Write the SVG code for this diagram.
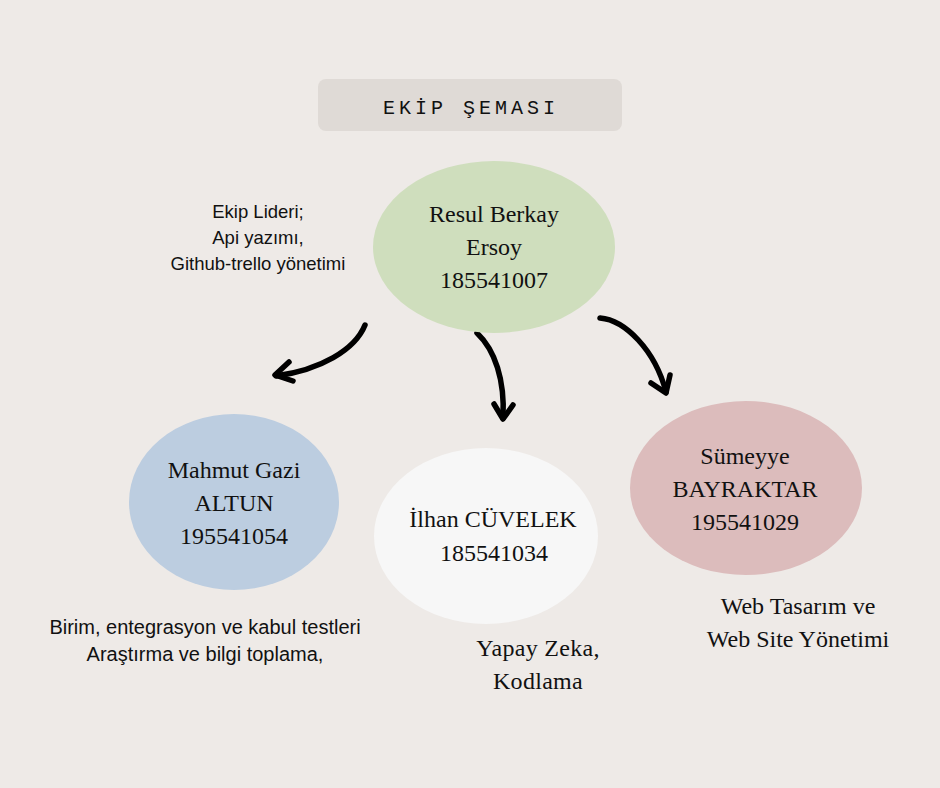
<svg xmlns="http://www.w3.org/2000/svg" width="940" height="788" viewBox="0 0 940 788">
<style>
.serif{font-family:"Liberation Serif","Times New Roman",serif;font-size:24px;fill:#111;text-anchor:middle}
.sans{font-family:"Liberation Sans",Arial,sans-serif;fill:#111;text-anchor:middle}
.title{font-family:"Liberation Mono","DejaVu Sans Mono",monospace;font-size:20px;letter-spacing:4px;fill:#111;text-anchor:middle}
.arrow{fill:none;stroke:#000;stroke-width:5.5;stroke-linecap:round;stroke-linejoin:round}
</style>
<rect width="940" height="788" fill="#eeeae7"/>
<g id="title">
<rect x="318" y="79" width="304" height="52" rx="8" fill="#dfdad6"/>
<text class="title" x="471" y="114">EKİP ŞEMASI</text>
</g>
<g id="connectors">
<path class="arrow" d="M365,325 C355,350 320,370 276,376"/>
<path class="arrow" d="M289,362 L275,375 L293,381"/>
<path class="arrow" d="M477,333 C495,350 505,380 503,418"/>
<path class="arrow" d="M494,404 L503,419 L513,405"/>
<path class="arrow" d="M600,318 C625,320 655,350 666,392"/>
<path class="arrow" d="M651,383 L666,393 L670,375"/>
</g>
<g id="node-resul">
<ellipse cx="494" cy="247" rx="121" ry="86" fill="#cfdebd"/>
<text class="serif" x="494" y="222">Resul Berkay</text>
<text class="serif" x="494" y="255">Ersoy</text>
<text class="serif" x="494" y="288">185541007</text>
</g>
<g id="note-resul">
<text class="sans" font-size="18.5" x="258" y="218">Ekip Lideri;</text>
<text class="sans" font-size="18.5" x="258" y="244">Api yazımı,</text>
<text class="sans" font-size="18.5" x="258" y="270">Github-trello yönetimi</text>
</g>
<g id="node-mahmut">
<ellipse cx="234" cy="502" rx="105" ry="88" fill="#bccde0"/>
<text class="serif" x="234" y="478">Mahmut Gazi</text>
<text class="serif" x="234" y="511">ALTUN</text>
<text class="serif" x="234" y="544">195541054</text>
</g>
<g id="note-mahmut">
<text class="sans" font-size="20" x="205" y="634">Birim, entegrasyon ve kabul testleri</text>
<text class="sans" font-size="20" x="205" y="661">Araştırma ve bilgi toplama,</text>
</g>
<g id="node-ilhan">
<ellipse cx="486" cy="536" rx="112" ry="88" fill="#f7f7f7"/>
<text class="serif" x="493" y="527" font-size="25.5">İlhan CÜVELEK</text>
<text class="serif" x="494" y="561" font-size="25.5">185541034</text>
</g>
<g id="note-ilhan">
<text class="serif" x="538" y="656" letter-spacing="0.3">Yapay Zeka,</text>
<text class="serif" x="538" y="689" letter-spacing="0.3">Kodlama</text>
</g>
<g id="node-sumeyye">
<ellipse cx="746" cy="488" rx="116" ry="87" fill="#dcbcbc"/>
<text class="serif" x="745" y="464" font-size="24.8">Sümeyye</text>
<text class="serif" x="745" y="497" font-size="24.8">BAYRAKTAR</text>
<text class="serif" x="745" y="530" font-size="24.8">195541029</text>
</g>
<g id="note-sumeyye">
<text class="serif" x="798" y="614">Web Tasarım ve</text>
<text class="serif" x="798" y="647">Web Site Yönetimi</text>
</g>
</svg>
